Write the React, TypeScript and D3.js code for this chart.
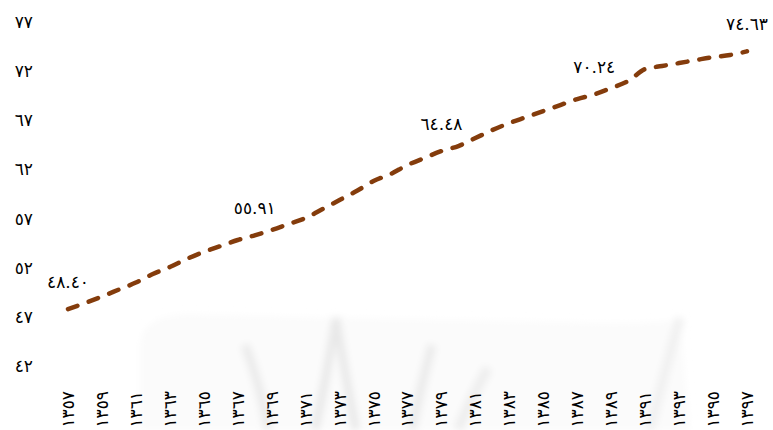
import React from "react";
import * as d3 from "d3";

// Years (Solar Hijri) and the series value for each year
const years: number[] = [
  1357, 1358, 1359, 1360, 1361, 1362, 1363, 1364, 1365, 1366,
  1367, 1368, 1369, 1370, 1371, 1372, 1373, 1374, 1375, 1376,
  1377, 1378, 1379, 1380, 1381, 1382, 1383, 1384, 1385, 1386,
  1387, 1388, 1389, 1390, 1391, 1392, 1393, 1394, 1395, 1396, 1397,
];
const values: number[] = [
  48.4, 49.02, 49.68, 50.39, 51.1, 51.97, 52.68, 53.5, 54.21, 54.82,
  55.43, 55.91, 56.45, 57.06, 57.67, 58.58, 59.5, 60.41, 61.43, 62.14,
  63.06, 63.77, 64.48, 64.99, 65.8, 66.62, 67.33, 67.94, 68.55, 69.16,
  69.77, 70.24, 70.89, 71.6, 72.82, 73.13, 73.43, 73.74, 74.04, 74.25, 74.63,
];
// Years whose values are printed above the line
const labelledYears: number[] = [1357, 1368, 1379, 1388, 1397];
// Axis ticks
const xTickYears: number[] = [
  1357, 1359, 1361, 1363, 1365, 1367, 1369, 1371, 1373, 1375, 1377,
  1379, 1381, 1383, 1385, 1387, 1389, 1391, 1393, 1395, 1397,
];
const yTicks: number[] = [42, 47, 52, 57, 62, 67, 72, 77];

const W = 773;
const H = 430;
const LINE_COLOR = "#843c0c";
const FONT = "'DejaVu Serif', 'DejaVu Sans', serif";

const arabicDigits = "٠١٢٣٤٥٦٧٨٩";
const toArabic = (s: string) => s.replace(/[0-9]/g, (d) => arabicDigits[+d]);

export default function App() {
  const x = d3.scaleLinear().domain([1357, 1397]).range([68, 747]);
  const y = d3.scaleLinear().domain([42, 77]).range([372, 28]);

  const points = years.map((yr, i) => ({ yr, v: values[i] }));
  const line = d3
    .line<{ yr: number; v: number }>()
    .x((d) => x(d.yr))
    .y((d) => y(d.v))
    .curve(d3.curveMonotoneX);

  return (
    <svg
      width={W}
      height={H}
      viewBox={`0 0 ${W} ${H}`}
      style={{ position: "absolute", left: 0, top: 0, background: "#fff" }}
    >
      <defs>
        <filter id="soft" x="-20%" y="-20%" width="140%" height="140%">
          <feGaussianBlur stdDeviation="3.5" />
        </filter>
      </defs>

      {/* faint emblem in the background */}
      <g filter="url(#soft)">
        <path
          d="M140,345 Q142,316 185,314 L330,318 Q340,316 350,318 L560,322 Q640,325 680,320 L690,430 L140,430 Z"
          fill="#fbfbfb"
        />
        <path d="M245,345 Q262,390 268,430" stroke="#ebebeb" strokeWidth={9} fill="none" />
        <path d="M336,318 Q326,380 315,430" stroke="#e8e8e8" strokeWidth={8} fill="none" />
        <path d="M336,318 Q346,380 356,430" stroke="#e8e8e8" strokeWidth={8} fill="none" />
        <path d="M432,345 Q420,390 412,430" stroke="#ebebeb" strokeWidth={9} fill="none" />
        <path d="M488,368 Q470,400 458,430" stroke="#eeeeee" strokeWidth={10} fill="none" />
        <path d="M680,318 Q665,370 650,430" stroke="#f0f0f0" strokeWidth={9} fill="none" />
      </g>

      {/* y axis labels */}
      {yTicks.map((t) => (
        <text
          key={t}
          x={33}
          y={y(t) - 6}
          dy="0.35em"
          textAnchor="end"
          fontFamily={FONT}
          fontSize={17}
          fill="#000"
        >
          {toArabic(String(t))}
        </text>
      ))}

      {/* x axis labels, rotated */}
      {xTickYears.map((yr) => (
        <text
          key={yr}
          transform={`translate(${x(yr)},391) rotate(-90)`}
          textAnchor="end"
          dy="0.35em"
          fontFamily={FONT}
          fontSize={17}
          fill="#000"
        >
          {toArabic(String(yr))}
        </text>
      ))}

      {/* series line */}
      <path
        d={line(points) ?? ""}
        fill="none"
        stroke={LINE_COLOR}
        strokeWidth={4.5}
        strokeLinecap="round"
        strokeLinejoin="round"
        strokeDasharray="10 12"
      />

      {/* value labels */}
      {points
        .filter((p) => labelledYears.includes(p.yr))
        .map((p) => (
          <text
            key={p.yr}
            x={x(p.yr)}
            y={y(p.v) - 27}
            dy="0.35em"
            textAnchor="middle"
            fontFamily={FONT}
            fontSize={17}
            fill="#000"
          >
            {toArabic(p.v.toFixed(2))}
          </text>
        ))}
    </svg>
  );
}
